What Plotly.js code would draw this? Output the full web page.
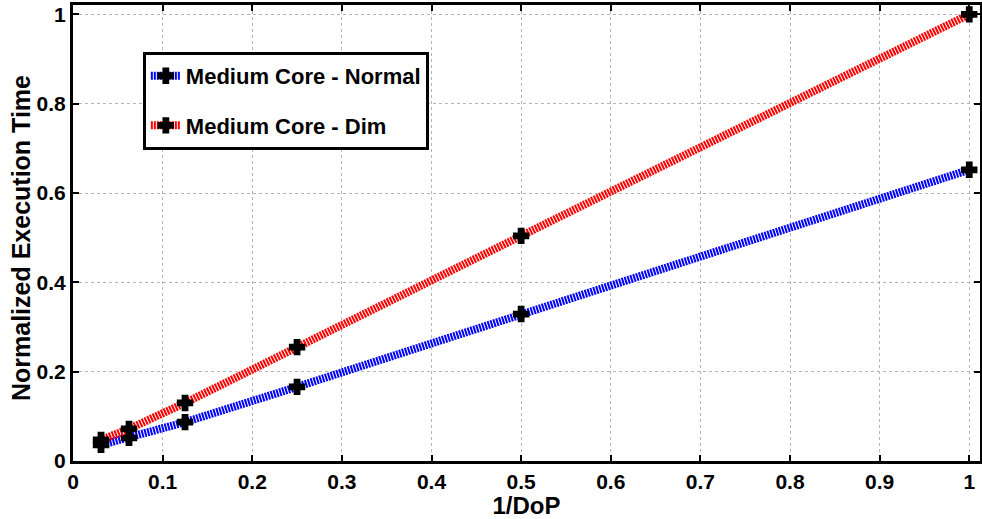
<!DOCTYPE html>
<html>
<head>
<meta charset="utf-8">
<script src="https://cdn.plot.ly/plotly-3.0.1.min.js"></script>
<style>html,body{margin:0;padding:0;background:#fff;}#chart{width:982px;height:519px;}</style>
</head>
<body>
<div id="chart"></div>
<script>
// Data
const invDoP = [0.03125, 0.0625, 0.125, 0.25, 0.5, 1];
const normalTime = [0.036, 0.052, 0.087, 0.166, 0.329, 0.652];
const dimTime = [0.047, 0.072, 0.130, 0.255, 0.504, 1.0];
const seriesNames = ["Medium Core - Normal", "Medium Core - Dim"];
const xTickVals = [0, 0.1, 0.2, 0.3, 0.4, 0.5, 0.6, 0.7, 0.8, 0.9, 1];
const xTickText = ["0", "0.1", "0.2", "0.3", "0.4", "0.5", "0.6", "0.7", "0.8", "0.9", "1"];
const yTickVals = [0, 0.2, 0.4, 0.6, 0.8, 1];
const yTickText = ["0", "0.2", "0.4", "0.6", "0.8", "1"];
const xTitle = "1/DoP";
const yTitle = "Normalized Execution Time";

const FONT = "Liberation Sans, Arial, Helvetica, sans-serif";

function series(y, name, color, group) {
  return {
    x: invDoP, y: y, name: name, type: "scatter", mode: "lines+markers",
    legendgroup: group,
    line: {color: color, width: 8, dash: "2px,1px"},
    marker: {symbol: "cross", size: 12, color: "#000", line: {width: 2, color: "#000"}}
  };
}

const data = [
  series(normalTime, seriesNames[0], "#0000ff", "a"),
  series(dimTime, seriesNames[1], "#ff0000", "b")
];

const axisCommon = {
  showline: true, linecolor: "#000", linewidth: 3, mirror: "ticks",
  ticks: "inside", ticklen: 6, tickwidth: 2, tickcolor: "#000",
  showgrid: true, gridcolor: "#b5b5b5", griddash: "dot", gridwidth: 1,
  zeroline: false,
  tickfont: {family: FONT, size: 21, color: "#000", weight: "bold"}
};

const layout = {
  width: 982, height: 519,
  margin: {l: 73, r: 2, t: 5, b: 58},
  paper_bgcolor: "#fff", plot_bgcolor: "#fff",
  showlegend: true,
  legend: {
    x: 0.077, y: 0.897, xanchor: "left", yanchor: "top",
    bgcolor: "#fff", bordercolor: "#000", borderwidth: 3,
    font: {family: FONT, size: 22, color: "#000", weight: "bold"},
    tracegroupgap: 18, itemwidth: 30
  },
  xaxis: Object.assign({}, axisCommon, {
    range: [0, 1.012], tickvals: xTickVals, ticktext: xTickText,
    title: {text: "<b>" + xTitle + "</b>", font: {family: FONT, size: 24, color: "#000"}, standoff: 6}
  }),
  yaxis: Object.assign({}, axisCommon, {
    range: [0, 1.021], tickvals: yTickVals, ticktext: yTickText
  }),
  annotations: [{
    text: "<b>" + yTitle + "</b>", textangle: -90, showarrow: false,
    xref: "paper", yref: "paper", x: -0.0573, y: 0.489,
    xanchor: "center", yanchor: "middle",
    font: {family: FONT, size: 25, color: "#000"}
  }]
};

Plotly.newPlot("chart", data, layout, {displayModeBar: false, staticPlot: true});
</script>
</body>
</html>
